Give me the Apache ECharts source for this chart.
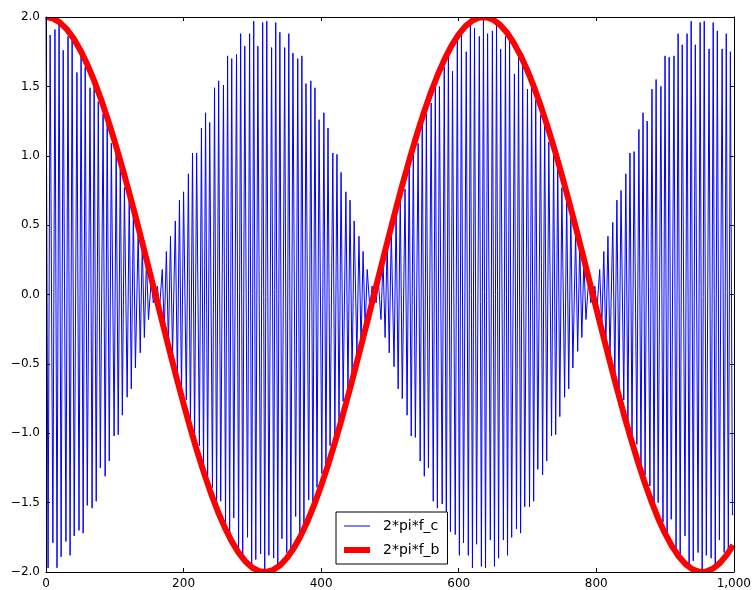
<!DOCTYPE html>
<html>
<head>
<meta charset="utf-8">
<script src="https://cdn.jsdelivr.net/npm/echarts@6/dist/echarts.min.js"></script>
<style>
html,body{margin:0;padding:0;background:#fff;}
#c{width:754px;height:590px;}
</style>
</head>
<body>
<div id="c"></div>
<script>
// Blue trace (2*pi*f_c): sample index of each visible peak / trough, and its value
const blueX = [
  0,3,6,10,13,16,19,22,25,29,
  32,35,38,41,45,48,51,54,57,60,
  64,67,70,73,76,79,83,86,89,92,
  95,99,102,105,108,111,114,118,121,124,
  127,130,134,137,140,143,146,149,153,156,
  159,162,165,169,172,175,178,181,184,188,
  191,194,197,200,204,207,210,213,216,219,
  223,226,229,232,235,238,242,245,248,251,
  254,258,261,264,267,270,273,277,280,283,
  286,289,293,296,299,302,305,308,312,315,
  318,321,324,328,331,334,337,340,343,347,
  350,353,356,359,363,366,369,372,375,378,
  382,385,388,391,394,397,401,404,407,410,
  413,417,420,423,426,429,432,436,439,442,
  445,448,452,455,458,461,464,467,471,474,
  477,480,483,487,490,493,496,499,502,506,
  509,512,515,518,522,525,528,531,534,537,
  541,544,547,550,553,556,560,563,566,569,
  572,576,579,582,585,588,591,595,598,601,
  604,607,611,614,617,620,623,626,630,633,
  636,639,642,646,649,652,655,658,661,665,
  668,671,674,677,681,684,687,690,693,696,
  700,703,706,709,712,715,719,722,725,728,
  731,735,738,741,744,747,750,754,757,760,
  763,766,770,773,776,779,782,785,789,792,
  795,798,801,805,808,811,814,817,820,824,
  827,830,833,836,840,843,846,849,852,855,
  859,862,865,868,871,874,878,881,884,887,
  890,894,897,900,903,906,909,913,916,919,
  922,925,929,932,935,938,941,944,948,951,
  954,957,960,964,967,970,973,976,979,983,
  986,989,992,995,998,999
];
const blueY = [
  2.00,-1.97,1.87,-1.79,1.91,-1.97,1.96,-1.89,1.76,-1.78,
  1.86,-1.88,1.84,-1.74,1.60,-1.70,1.74,-1.72,1.64,-1.52,
  1.49,-1.54,1.54,-1.49,1.39,-1.25,1.30,-1.31,1.27,-1.20,
  1.09,-1.02,1.04,-1.01,0.96,-0.87,0.77,-0.74,0.72,-0.68,
  0.61,-0.53,0.44,-0.42,0.37,-0.31,0.25,-0.18,0.11,-0.06,
  0.00,0.06,-0.11,0.18,-0.25,0.31,-0.37,0.42,-0.44,0.53,
  -0.61,0.68,-0.72,0.74,-0.76,0.87,-0.96,1.02,-1.04,1.02,
  -1.09,1.20,-1.27,1.31,-1.30,1.24,-1.39,1.49,-1.54,1.54,
  -1.49,1.51,-1.64,1.72,-1.74,1.70,-1.61,1.73,-1.84,1.88,
  -1.87,1.79,-1.75,1.88,-1.96,1.97,-1.91,1.79,-1.87,1.96,
  -2.00,1.97,-1.88,1.78,-1.90,1.96,-1.96,1.89,-1.76,1.78,
  -1.86,1.88,-1.84,1.74,-1.60,1.70,-1.74,1.72,-1.65,1.52,
  -1.48,1.54,-1.54,1.49,-1.39,1.26,-1.29,1.31,-1.28,1.20,
  -1.09,1.02,-1.03,1.01,-0.96,0.88,-0.77,0.74,-0.72,0.68,
  -0.61,0.53,-0.44,0.42,-0.37,0.31,-0.25,0.18,-0.11,0.06,
  0.00,-0.06,0.11,-0.18,0.25,-0.31,0.37,-0.42,0.45,-0.52,
  0.61,-0.68,0.73,-0.75,0.76,-0.87,0.96,-1.02,1.04,-1.03,
  1.09,-1.20,1.27,-1.31,1.30,-1.25,1.38,-1.49,1.54,-1.54,
  1.50,-1.51,1.64,-1.72,1.74,-1.71,1.61,-1.73,1.83,-1.88,
  1.87,-1.79,1.75,-1.88,1.96,-1.97,1.92,-1.80,1.86,-1.96,
  2.00,-1.97,1.88,-1.77,1.90,-1.96,1.96,-1.90,1.77,-1.77,
  1.86,-1.88,1.84,-1.75,1.59,-1.69,1.74,-1.72,1.65,-1.53,
  1.48,-1.53,1.54,-1.49,1.40,-1.26,1.29,-1.30,1.28,-1.20,
  1.10,-1.02,1.03,-1.01,0.96,-0.88,0.77,-0.74,0.72,-0.68,
  0.61,-0.53,0.44,-0.41,0.37,-0.31,0.25,-0.18,0.11,-0.06,
  0.00,0.06,-0.11,0.18,-0.25,0.31,-0.37,0.42,-0.45,0.52,
  -0.61,0.68,-0.73,0.75,-0.76,0.87,-0.96,1.02,-1.04,1.03,
  -1.08,1.19,-1.27,1.31,-1.30,1.25,-1.38,1.48,-1.54,1.55,
  -1.50,1.50,-1.64,1.72,-1.74,1.71,-1.62,1.72,-1.83,1.88,
  -1.87,1.80,-1.74,1.88,-1.96,1.97,-1.92,1.80,-1.86,1.96,
  -2.00,1.97,-1.88,1.77,-1.90,1.96,-1.96,1.90,-1.77,1.77,
  -1.86,1.88,-1.84,1.75,-1.59,-1.58
];
// Red trace (2*pi*f_b): envelope read every 10 samples
const redX = [
  0,10,20,30,40,50,60,70,80,90,
  100,110,120,130,140,150,160,170,180,190,
  200,210,220,230,240,250,260,270,280,290,
  300,310,320,330,340,350,360,370,380,390,
  400,410,420,430,440,450,460,470,480,490,
  500,510,520,530,540,550,560,570,580,590,
  600,610,620,630,640,650,660,670,680,690,
  700,710,720,730,740,750,760,770,780,790,
  800,810,820,830,840,850,860,870,880,890,
  900,910,920,930,940,950,960,970,980,990,999
];
const redY = [
  2.000,1.990,1.961,1.913,1.846,1.761,1.659,1.541,1.407,1.260,
  1.101,0.931,0.751,0.565,0.373,0.177,-0.020,-0.217,-0.412,-0.603,
  -0.788,-0.966,-1.134,-1.291,-1.435,-1.566,-1.680,-1.779,-1.861,-1.924,
  -1.969,-1.994,-2.000,-1.986,-1.953,-1.901,-1.830,-1.742,-1.636,-1.515,
  -1.379,-1.230,-1.067,-0.896,-0.715,-0.527,-0.334,-0.138,0.059,0.256,
  0.451,0.641,0.825,1.000,1.167,1.321,1.463,1.589,1.702,1.797,
  1.875,1.934,1.975,1.997,1.998,1.981,1.944,1.888,1.814,1.722,
  1.613,1.489,1.349,1.197,1.034,0.860,0.677,0.489,0.295,0.098,
  -0.099,-0.296,-0.489,-0.678,-0.860,-1.034,-1.198,-1.350,-1.489,-1.614,
  -1.722,-1.814,-1.888,-1.944,-1.981,-1.998,-1.996,-1.975,-1.934,-1.875,-1.806
];
const seriesNames = ['2*pi*f_c','2*pi*f_b'];
const xTicks = {min:0, max:1000, step:200};
const yTicks = {min:-2, max:2, step:0.5};

const blueData = blueX.map((x,i)=>[x, blueY[i]]);
const redData = redX.map((x,i)=>[x, redY[i]]);

const FONT = 'DejaVu Sans';
const fmtY = v => (v < 0 ? '\u2212' : '') + Math.abs(v).toFixed(1);
const axisLineStyle = {show:true, onZero:false, lineStyle:{color:'#000', width:1}};
const tickStyle = {show:true, inside:true, length:4, lineStyle:{color:'#000', width:1}};

const chart = echarts.init(document.getElementById('c'), null, {renderer:'canvas'});
chart.setOption({
  animation:false,
  backgroundColor:'#fff',
  grid:{left:46, right:16, top:17, bottom:18, containLabel:false},
  xAxis:[
    {type:'value', position:'bottom', min:xTicks.min, max:xTicks.max, interval:xTicks.step, z:10,
     axisLine:axisLineStyle, axisTick:tickStyle, splitLine:{show:false},
     axisLabel:{color:'#000', fontSize:12, fontFamily:FONT, margin:6}},
    {type:'value', position:'top', min:xTicks.min, max:xTicks.max, interval:xTicks.step, z:10,
     axisLine:axisLineStyle, axisTick:tickStyle, splitLine:{show:false},
     axisLabel:{show:false}}
  ],
  yAxis:[
    {type:'value', position:'left', min:yTicks.min, max:yTicks.max, interval:yTicks.step, z:10,
     axisLine:axisLineStyle, axisTick:tickStyle, splitLine:{show:false},
     axisLabel:{color:'#000', fontSize:12, fontFamily:FONT, margin:6, formatter:fmtY}},
    {type:'value', position:'right', min:yTicks.min, max:yTicks.max, interval:yTicks.step, z:10,
     axisLine:axisLineStyle, axisTick:tickStyle, splitLine:{show:false},
     axisLabel:{show:false}}
  ],
  graphic:[
    {type:'rect', silent:true, z:5, shape:{x:40, y:0, width:710, height:17}, style:{fill:'#fff'}},
    {type:'rect', silent:true, z:5, shape:{x:40, y:573, width:710, height:4}, style:{fill:'#fff'}}
  ],
  legend:{
    orient:'vertical', left:336, top:512, z:20,
    padding:[7,8,7,8], itemGap:10, itemWidth:34, itemHeight:14,
    backgroundColor:'#fff', borderColor:'#000', borderWidth:1, borderRadius:0,
    textStyle:{color:'#000', fontSize:14, fontFamily:FONT},
    selectedMode:false,
    data:[
      {name:seriesNames[0], icon:'path://M0,0L0.01,0Z M0,6.5L26,6.5L26,7.5L0,7.5Z M34,14L33.99,14Z'},
      {name:seriesNames[1], icon:'path://M0,0L0.01,0Z M0,4L26,4L26,10L0,10Z M34,14L33.99,14Z'}
    ]
  },
  series:[
    {name:seriesNames[0], type:'line', data:blueData, xAxisIndex:0, yAxisIndex:0,
     symbol:'none', showSymbol:false, sampling:null, z:2,
     itemStyle:{color:'#0000ff'}, lineStyle:{color:'#0000ff', width:1}},
    {name:seriesNames[1], type:'line', data:redData, xAxisIndex:0, yAxisIndex:0,
     symbol:'none', showSymbol:false, z:3,
     itemStyle:{color:'#ff0000'}, lineStyle:{color:'#ff0000', width:6}}
  ]
});
</script>
</body>
</html>
